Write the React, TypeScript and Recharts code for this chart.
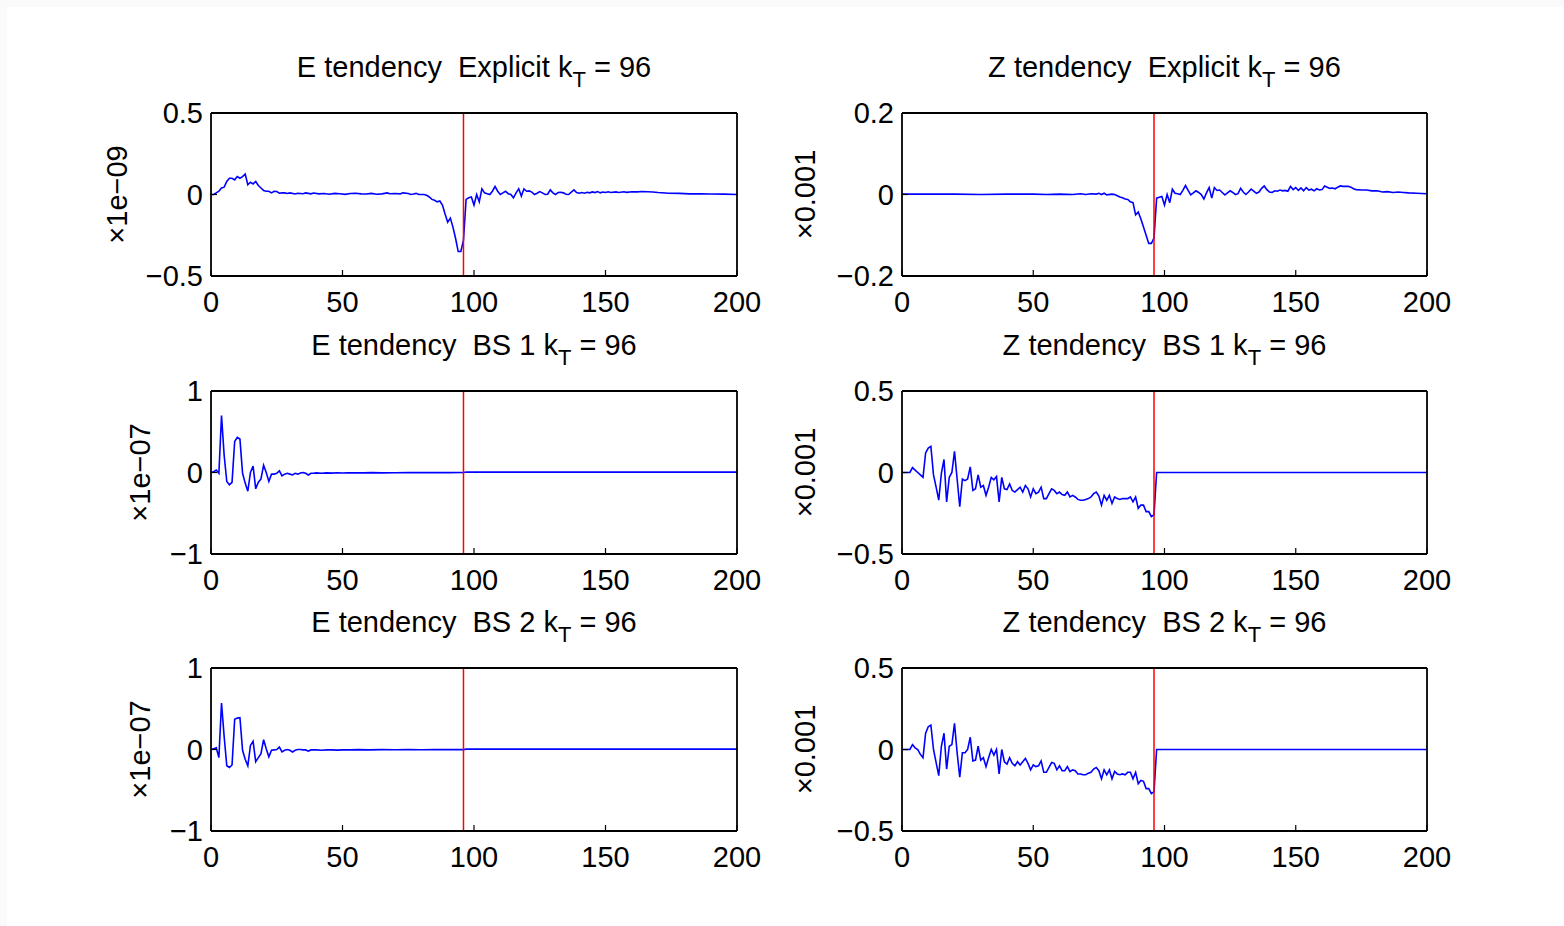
import React from 'react';
import { LineChart, Line, XAxis, YAxis, ReferenceLine } from 'recharts';

// ---- data (x = wavenumber k, y = scaled tendency) ----
const xTicks = [0, 50, 100, 150, 200];
const kTruncation = 96;

const eExplicit: [number, number][] = [
  [0, 0], [1, 0], [2, 0.01], [3, 0.02], [4, 0.04], [5, 0.045], [6, 0.08], [7, 0.1], [8, 0.1], [9, 0.09],
  [10, 0.11], [11, 0.1], [12, 0.11], [13, 0.125], [14, 0.06], [15, 0.075], [16, 0.065], [17, 0.08], [18, 0.055], [19, 0.04],
  [20, 0.025], [21, 0.02], [22, 0.02], [23, 0.01], [24, 0.02], [25, 0.018], [26, 0.008], [27, 0.01], [28, 0.01], [29, 0.006],
  [30, 0.01], [32, 0.003], [33, 0.008], [35, 0.005], [36, 0.01], [38, 0.004], [39, 0.009], [41, 0.004], [43, 0.006], [45, 0.002],
  [47, 0.007], [49, 0.005], [51, 0.001], [53, 0.006], [55, 0.008], [57, 0.004], [59, 0.003], [61, 0.007], [63, 0.002], [65, 0.004],
  [67, 0.01], [68, 0.005], [70, 0.006], [72, 0.004], [73, 0.01], [75, 0.006], [76, 0], [77, 0.003], [78, 0.007], [79, 0],
  [81, 0], [82, -0.005], [83, -0.015], [84, -0.03], [85, -0.035], [86, -0.045], [87, -0.04], [88, -0.065], [89, -0.12], [90, -0.17],
  [91, -0.145], [92, -0.2], [93, -0.27], [94, -0.35], [95, -0.35], [96, -0.28], [97, -0.03], [98, -0.02], [99, -0.015], [100, -0.065],
  [101, 0], [102, -0.045], [103, 0.035], [104, 0.01], [105, 0.005], [106, 0], [107, 0.02], [108, 0.05], [109, 0.02], [110, 0],
  [111, 0.01], [112, 0.02], [113, 0.005], [114, 0], [115, -0.02], [116, 0.01], [117, 0.035], [118, -0.01], [119, 0.035], [120, 0.02],
  [121, 0.022], [122, 0.015], [123, 0], [124, 0.008], [125, 0.018], [126, 0.01], [127, 0], [128, 0.002], [129, 0.028], [130, 0.01],
  [131, 0], [132, 0.012], [133, 0.014], [134, 0.01], [135, 0.002], [136, 0], [137, 0.015], [138, 0.028], [139, 0.012], [140, 0.008],
  [141, 0.012], [142, 0.008], [143, 0.014], [144, 0.01], [145, 0.016], [146, 0.012], [147, 0.018], [148, 0.01], [149, 0.015], [150, 0.012],
  [151, 0.017], [152, 0.012], [154, 0.016], [155, 0.012], [157, 0.017], [158, 0.013], [160, 0.017], [162, 0.016], [164, 0.018], [166, 0.017],
  [168, 0.015], [170, 0.012], [174, 0.008], [178, 0.007], [182, 0.004], [186, 0.004], [190, 0.003], [195, 0.002], [200, 0],
];

const zExplicit: [number, number][] = [
  [0, 0.001], [10, 0.001], [20, 0.001], [30, 0], [40, 0.001], [50, 0.001], [55, 0], [60, 0.001], [65, 0], [68, 0.002],
  [70, 0], [72, 0.002], [74, 0.001], [75, 0.003], [76, 0], [77, 0.003], [78, -0.001], [80, 0.001], [81, 0], [82, -0.003],
  [83, -0.006], [84, -0.008], [85, -0.011], [86, -0.012], [87, -0.018], [88, -0.02], [89, -0.05], [90, -0.043], [91, -0.06], [92, -0.08],
  [93, -0.1], [94, -0.12], [95, -0.12], [96, -0.107], [97, -0.009], [98, -0.007], [99, -0.005], [100, -0.026], [101, 0], [102, -0.02],
  [103, 0.013], [104, 0.003], [105, 0.002], [106, 0], [107, 0.01], [108, 0.022], [109, 0.01], [110, -0.001], [111, 0.004], [112, 0.009],
  [113, 0.005], [114, 0], [115, -0.011], [116, 0.004], [117, 0.017], [118, -0.009], [119, 0.017], [120, 0.01], [121, 0.011], [122, 0.005],
  [123, -0.001], [124, 0.004], [125, 0.009], [126, 0.005], [127, 0], [128, 0.002], [129, 0.015], [130, 0.006], [131, 0], [132, 0.006],
  [133, 0.013], [134, 0.008], [135, 0.003], [136, 0.006], [137, 0.015], [138, 0.021], [139, 0.012], [140, 0.006], [141, 0.005], [142, 0.009],
  [143, 0.008], [144, 0.011], [145, 0.009], [146, 0.01], [147, 0.008], [148, 0.02], [149, 0.012], [150, 0.017], [151, 0.01], [152, 0.016],
  [153, 0.009], [154, 0.017], [155, 0.011], [156, 0.013], [157, 0.009], [158, 0.014], [159, 0.011], [160, 0.012], [161, 0.021], [162, 0.018],
  [163, 0.015], [164, 0.016], [165, 0.014], [166, 0.018], [167, 0.021], [168, 0.02], [169, 0.02], [170, 0.02], [171, 0.018], [172, 0.014],
  [173, 0.012], [175, 0.011], [177, 0.011], [179, 0.009], [181, 0.009], [183, 0.006], [185, 0.007], [187, 0.005], [189, 0.006], [191, 0.005],
  [193, 0.004], [196, 0.003], [200, 0.002],
];

const eBS1: [number, number][] = [
  [0, 0], [1, 0.01], [2, 0.03], [3, -0.01], [4, 0.7], [5, 0.21], [6, -0.11], [7, -0.15], [8, -0.12], [9, 0.38],
  [10, 0.43], [11, 0.41], [12, -0.01], [13, -0.13], [14, -0.23], [15, 0], [16, 0.08], [17, -0.2], [18, -0.12], [19, -0.08],
  [20, 0.09], [21, 0], [22, -0.11], [23, -0.02], [24, -0.02], [25, -0.01], [26, 0.02], [27, -0.04], [28, -0.02], [29, -0.01],
  [30, -0.02], [31, -0.03], [32, -0.01], [33, -0.02], [34, -0.005], [35, 0], [36, -0.01], [37, -0.03], [38, -0.01], [39, -0.01],
  [40, -0.005], [42, -0.01], [44, -0.005], [46, -0.008], [48, -0.003], [50, -0.006], [52, -0.004], [55, -0.003], [58, -0.005], [61, -0.002],
  [65, -0.004], [70, -0.003], [75, -0.002], [80, -0.002], [85, -0.001], [90, -0.001], [96, 0], [97, 0.005], [200, 0.005],
];

const zBS1: [number, number][] = [
  [0, 0], [1, 0], [2, 0], [3, 0], [4, 0.03], [5, 0.015], [6, 0], [7, -0.015], [8, -0.03], [9, 0.12],
  [10, 0.15], [11, 0.16], [12, -0.015], [13, -0.09], [14, -0.17], [15, -0.005], [16, 0.08], [17, -0.18], [18, -0.03], [19, 0],
  [20, 0.13], [21, -0.04], [22, -0.21], [23, -0.04], [24, -0.05], [25, -0.04], [26, 0.035], [27, -0.11], [28, -0.1], [29, -0.015],
  [30, -0.09], [31, -0.08], [32, -0.14], [33, -0.09], [34, -0.03], [35, -0.045], [36, -0.025], [37, -0.18], [38, -0.03], [39, -0.1],
  [40, -0.105], [41, -0.07], [42, -0.11], [43, -0.12], [44, -0.105], [45, -0.09], [46, -0.12], [47, -0.08], [48, -0.1], [49, -0.15],
  [50, -0.1], [51, -0.13], [52, -0.12], [53, -0.09], [54, -0.16], [55, -0.16], [56, -0.13], [57, -0.1], [58, -0.11], [59, -0.13],
  [60, -0.12], [61, -0.135], [62, -0.14], [63, -0.12], [64, -0.15], [65, -0.14], [66, -0.15], [67, -0.165], [68, -0.17], [69, -0.17],
  [70, -0.165], [71, -0.16], [72, -0.15], [73, -0.13], [74, -0.12], [75, -0.145], [76, -0.2], [77, -0.14], [78, -0.17], [79, -0.14],
  [80, -0.19], [81, -0.15], [82, -0.16], [83, -0.165], [84, -0.16], [85, -0.16], [86, -0.16], [87, -0.15], [88, -0.18], [89, -0.15],
  [90, -0.22], [91, -0.2], [92, -0.2], [93, -0.24], [94, -0.24], [95, -0.27], [96, -0.26], [97, 0], [200, 0],
];

const eBS2: [number, number][] = [
  [0, 0], [1, 0.01], [2, 0.02], [3, -0.1], [4, 0.57], [5, 0.16], [6, -0.2], [7, -0.22], [8, -0.19], [9, 0.37],
  [10, 0.385], [11, 0.39], [12, -0.01], [13, -0.12], [14, -0.2], [15, 0.05], [16, 0.1], [17, -0.15], [18, -0.1], [19, -0.05],
  [20, 0.12], [21, 0.01], [22, -0.09], [23, -0.01], [24, -0.005], [25, 0], [26, 0.03], [27, -0.03], [28, -0.01], [29, 0],
  [30, -0.01], [31, -0.03], [32, -0.01], [33, 0], [34, 0], [35, -0.005], [36, -0.005], [37, -0.02], [38, -0.005], [40, -0.005],
  [42, -0.01], [44, -0.005], [46, -0.005], [48, -0.008], [50, -0.005], [53, -0.004], [56, -0.002], [60, -0.005], [65, -0.002], [70, -0.003],
  [75, -0.002], [80, -0.003], [85, -0.001], [90, -0.002], [96, -0.001], [97, 0.005], [200, 0.005],
];

const zBS2: [number, number][] = [
  [0, 0], [1, 0], [2, 0], [3, 0], [4, 0.03], [5, 0.01], [6, 0], [7, -0.03], [8, -0.05], [9, 0.1],
  [10, 0.14], [11, 0.15], [12, 0], [13, -0.08], [14, -0.16], [15, 0.02], [16, 0.1], [17, -0.12], [18, 0.02], [19, 0.03],
  [20, 0.16], [21, -0.02], [22, -0.17], [23, -0.02], [24, -0.02], [25, 0], [26, 0.075], [27, -0.07], [28, -0.065], [29, 0.02],
  [30, -0.065], [31, -0.05], [32, -0.105], [33, -0.05], [34, 0], [35, -0.035], [36, 0], [37, -0.15], [38, 0], [39, -0.075],
  [40, -0.09], [41, -0.05], [42, -0.085], [43, -0.1], [44, -0.075], [45, -0.095], [46, -0.075], [47, -0.055], [48, -0.085], [49, -0.125],
  [50, -0.095], [51, -0.105], [52, -0.1], [53, -0.07], [54, -0.14], [55, -0.14], [56, -0.11], [57, -0.08], [58, -0.085], [59, -0.125],
  [60, -0.1], [61, -0.13], [62, -0.13], [63, -0.105], [64, -0.135], [65, -0.125], [66, -0.13], [67, -0.15], [68, -0.15], [69, -0.155],
  [70, -0.155], [71, -0.145], [72, -0.14], [73, -0.12], [74, -0.11], [75, -0.13], [76, -0.18], [77, -0.125], [78, -0.155], [79, -0.125],
  [80, -0.18], [81, -0.135], [82, -0.15], [83, -0.155], [84, -0.15], [85, -0.155], [86, -0.14], [87, -0.14], [88, -0.18], [89, -0.14],
  [90, -0.21], [91, -0.19], [92, -0.195], [93, -0.24], [94, -0.24], [95, -0.27], [96, -0.26], [97, 0], [200, 0],
];

const yTicksE1 = [-0.5, 0, 0.5];
const yTicksZ1 = [-0.2, 0, 0.2];
const yTicksE23 = [-1, 0, 1];
const yTicksZ23 = [-0.5, 0, 0.5];

// ---- layout ----
const FONT = '"Liberation Sans", Arial, Helvetica, sans-serif';
const FS = 29;
const PH = 163;
const colLeft = { left: 211, width: 526 };
const colRight = { left: 902, width: 525 };
const rowTops = [113, 391, 668];

type Panel = {
  title: string;
  method: string;
  data: [number, number][];
  ticks: number[];
  scale: string;
  col: { left: number; width: number };
  top: number;
  labelX: number;
};

const panels: Panel[] = [
  { title: 'E tendency', method: 'Explicit', data: eExplicit, ticks: yTicksE1, scale: '×1e−09', col: colLeft, top: rowTops[0], labelX: 117 },
  { title: 'Z tendency', method: 'Explicit', data: zExplicit, ticks: yTicksZ1, scale: '×0.001', col: colRight, top: rowTops[0], labelX: 805 },
  { title: 'E tendency', method: 'BS 1', data: eBS1, ticks: yTicksE23, scale: '×1e−07', col: colLeft, top: rowTops[1], labelX: 140 },
  { title: 'Z tendency', method: 'BS 1', data: zBS1, ticks: yTicksZ23, scale: '×0.001', col: colRight, top: rowTops[1], labelX: 805 },
  { title: 'E tendency', method: 'BS 2', data: eBS2, ticks: yTicksE23, scale: '×1e−07', col: colLeft, top: rowTops[2], labelX: 140 },
  { title: 'Z tendency', method: 'BS 2', data: zBS2, ticks: yTicksZ23, scale: '×0.001', col: colRight, top: rowTops[2], labelX: 805 },
];

const fmt = (v: number) => (v < 0 ? '−' + String(Math.abs(v)) : String(v));

const ML = 120;
const MT = 40;
const MR = 40;
const XH = 60;

function PanelChart({ p }: { p: Panel }) {
  const rows = p.data.map(([x, y]) => ({ x, y }));
  const lo = p.ticks[0];
  const hi = p.ticks[p.ticks.length - 1];
  const axisStyle = { stroke: '#000', strokeWidth: 1.8 };
  const tl = { stroke: '#000', strokeWidth: 1.2 };
  const tickStyle = { fill: '#000', fontSize: FS, fontFamily: FONT };
  return (
    <div style={{ position: 'absolute', left: p.col.left - ML, top: p.top - MT }}>
      <LineChart width={p.col.width + ML + MR} height={PH + MT + XH} data={rows} margin={{ top: MT - 1, right: MR - 1, left: 0, bottom: 0 }}>
        <XAxis xAxisId="b" dataKey="x" type="number" domain={[0, 200]} ticks={xTicks} interval={0} orientation="bottom"
          height={XH} tickSize={-6} tickMargin={21} axisLine={axisStyle} tickLine={tl} stroke="#000" tick={tickStyle} />
        <XAxis xAxisId="t" dataKey="x" type="number" domain={[0, 200]} ticks={xTicks} interval={0} orientation="top"
          height={1} tickSize={-6} axisLine={axisStyle} tickLine={tl} stroke="#000" tick={false} />
        <YAxis yAxisId="l" type="number" domain={[lo, hi]} ticks={p.ticks} interval={0} orientation="left"
          width={ML} tickSize={-6} tickMargin={14} axisLine={axisStyle} tickLine={tl} stroke="#000" tick={tickStyle} tickFormatter={fmt} />
        <YAxis yAxisId="r" type="number" domain={[lo, hi]} ticks={p.ticks} interval={0} orientation="right"
          width={1} tickSize={-6} axisLine={axisStyle} tickLine={tl} stroke="#000" tick={false} />
        <Line xAxisId="b" yAxisId="l" type="linear" dataKey="y" stroke="#0000ff" strokeWidth={1.6} dot={false} activeDot={false} isAnimationActive={false} />
        <ReferenceLine xAxisId="b" yAxisId="l" x={kTruncation} stroke="#ff0000" strokeWidth={1.5} />
      </LineChart>
    </div>
  );
}

export default function App() {
  return (
    <div style={{ position: 'fixed', left: 0, top: 0, width: 1564, height: 926, background: '#fafafa', overflow: 'hidden' }}>
      <div style={{ position: 'absolute', left: 7, top: 7, right: 0, bottom: 0, background: '#fff' }} />
      {panels.map((p, i) => (
        <PanelChart key={i} p={p} />
      ))}
      <svg width={1564} height={926} style={{ position: 'absolute', left: 0, top: 0, pointerEvents: 'none' }}>
        {panels.map((p, i) => {
          const cx = p.col.left + p.col.width / 2;
          const by = p.top - 36;
          return (
            <g key={i} fontFamily={FONT} fill="#000">
              <text x={cx} y={by} textAnchor="middle" fontSize={FS} style={{ whiteSpace: 'pre' }}>
                {`${p.title}  ${p.method} k`}
                <tspan fontSize={22} dy={10}>T</tspan>
                <tspan dy={-10}>{` = ${kTruncation}`}</tspan>
              </text>
              <text transform={`translate(${p.labelX},${p.top + PH / 2}) rotate(-90)`} textAnchor="middle" dominantBaseline="central" fontSize={FS}>
                {p.scale}
              </text>
            </g>
          );
        })}
      </svg>
    </div>
  );
}
